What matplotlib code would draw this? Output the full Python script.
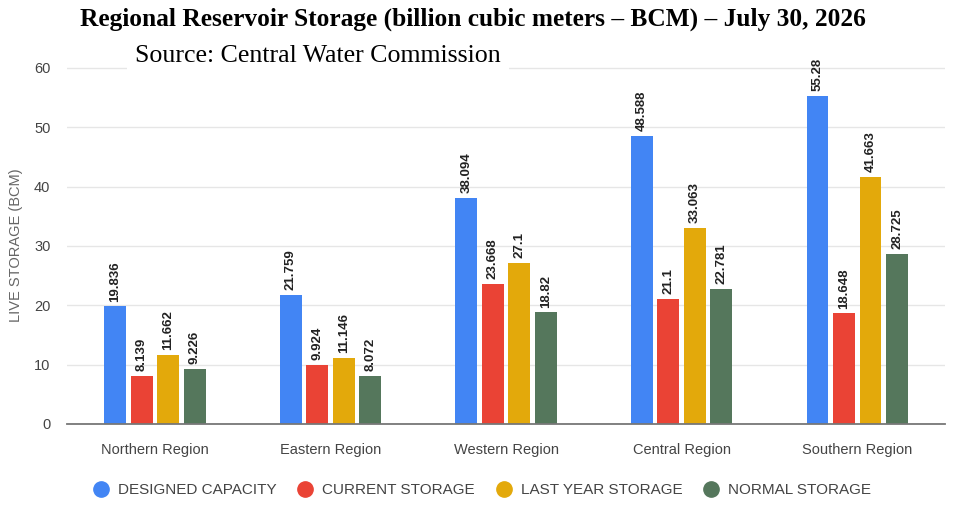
import numpy as np
import matplotlib
matplotlib.use('Agg')
import matplotlib.pyplot as plt
from matplotlib.lines import Line2D

regions = ['Northern Region', 'Eastern Region', 'Western Region', 'Central Region', 'Southern Region']
series_names = ['DESIGNED CAPACITY', 'CURRENT STORAGE', 'LAST YEAR STORAGE', 'NORMAL STORAGE']
designed = [19.836, 21.759, 38.094, 48.588, 55.28]
current = [8.139, 9.924, 23.668, 21.1, 18.648]
last_year = [11.662, 11.146, 27.1, 33.063, 41.663]
normal = [9.226, 8.072, 18.82, 22.781, 28.725]
labels = [
    ['19.836', '21.759', '38.094', '48.588', '55.28'],
    ['8.139', '9.924', '23.668', '21.1', '18.648'],
    ['11.662', '11.146', '27.1', '33.063', '41.663'],
    ['9.226', '8.072', '18.82', '22.781', '28.725'],
]
colors = ['#4285f4', '#ea4335', '#e3a90b', '#55775c']

fig = plt.figure(figsize=(9.55, 5.08), dpi=100)
ax = fig.add_axes([0.0702, 0.1654, 0.9194, 0.7183])

x = np.arange(len(regions))
width = 0.125
step = 0.151
all_series = [designed, current, last_year, normal]
for i, vals in enumerate(all_series):
    pos = x + (i - 1.5) * step
    ax.bar(pos, vals, width, color=colors[i], zorder=3)
    for px, v, lab in zip(pos, vals, labels[i]):
        ax.text(px, v + 0.8, lab, rotation=90, ha='center', va='bottom',
                fontsize=9.5, fontweight='bold', color='#222222',
                family='Liberation Sans', zorder=4)

ax.set_xlim(-0.5, 4.5)
ax.set_ylim(0, 61.5)
ax.set_yticks([0, 10, 20, 30, 40, 50, 60])
ax.set_xticks(x)
ax.set_xticklabels(regions)
ax.grid(axis='y', color='#e6e6e6', linewidth=1, zorder=0)
for s in ['top', 'right', 'left']:
    ax.spines[s].set_visible(False)
ax.spines['bottom'].set_color('#777777')
ax.spines['bottom'].set_linewidth(1.3)
ax.spines['bottom'].set_zorder(5)
ax.tick_params(axis='both', length=0, labelsize=10.5, labelcolor='#444444')
ax.tick_params(axis='x', pad=14)
ax.tick_params(axis='y', pad=12)
for t in ax.get_xticklabels() + ax.get_yticklabels():
    t.set_family('Liberation Sans')
ax.set_ylabel('LIVE STORAGE (BCM)', fontsize=10.5, color='#666666',
              family='Liberation Sans')
ax.yaxis.set_label_coords(-0.050, 0.49)

handles = [Line2D([], [], marker='o', linestyle='none', markersize=11,
                  markerfacecolor=c, markeredgecolor=c) for c in colors]
fig.legend(handles, series_names, loc='center', bbox_to_anchor=(0.505, 0.035),
           ncol=4, frameon=False, handlelength=1.0, handletextpad=0.6,
           columnspacing=1.4,
           prop={'family': 'Liberation Sans', 'size': 11}, labelcolor='#444444')

fig.text(0.495, 0.963, 'Regional Reservoir Storage (billion cubic meters \u2013 BCM) \u2013 July 30, 2026',
         ha='center', va='center', fontsize=18.3, fontweight='bold',
         family='Liberation Serif', color='black')
fig.text(0.333, 0.89, 'Source: Central Water Commission', ha='center', va='center',
         fontsize=18.6, family='Liberation Serif', color='black', zorder=10,
         bbox=dict(facecolor='white', edgecolor='none', pad=6))

fig.savefig('out.png', dpi=100)
